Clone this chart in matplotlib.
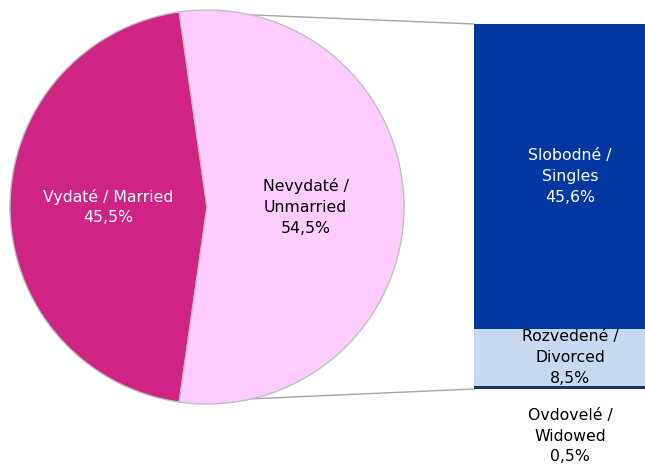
import matplotlib
matplotlib.use("Agg")
import matplotlib.pyplot as plt
from matplotlib.patches import ConnectionPatch
import numpy as np

plt.rcParams['font.family'] = ['DejaVu Sans']

pie_labels = ["Vydaté / Married", "Nevydaté / Unmarried"]
pie_values = [45.5, 54.5]
pie_colors = ["#CF2484", "#FFCCFF"]
pie_text_colors = ["white", "black"]

bar_labels = ["Ovdovelé /\nWidowed", "Rozvedené /\nDivorced", "Slobodné /\nSingles"]
bar_values = [0.5, 8.5, 45.6]
bar_colors = ["#17375E", "#C6D9F1", "#0337A2"]
bar_text_colors = ["black", "black", "white"]

FS = 11.3
LS = 1.48

W, H = 645, 465
fig = plt.figure(figsize=(W / 100, H / 100), dpi=100)
ax = fig.add_axes([0, 0, 1, 1])

cx, cy, R = 207, 258, 197
start = 180 - pie_values[0] / 100 * 180

def fmt(v):
    return f"{v:.1f}".replace(".", ",") + "%"

wedges, _ = ax.pie(pie_values, colors=pie_colors, startangle=start, counterclock=True,
                   center=(cx, cy), radius=R,
                   wedgeprops=dict(edgecolor="#BFBFBF", linewidth=1.0))
for w, lab, val, tc in zip(wedges, pie_labels, pie_values, pie_text_colors):
    ang = np.deg2rad((w.theta1 + w.theta2) / 2)
    x = cx + 0.5 * R * np.cos(ang)
    y = cy + 0.5 * R * np.sin(ang)
    if val < 50:
        txt = lab + "\n" + fmt(val)
    else:
        txt = lab.replace(" / ", " /\n") + "\n" + fmt(val)
    ax.text(x, y, txt, ha="center", va="center", color=tc, fontsize=FS,
            linespacing=LS)
ax.set_xlim(0, W)
ax.set_ylim(0, H)
ax.set_aspect("equal")
ax.axis("off")

# bar of pie
total = sum(bar_values)
bx = fig.add_axes([474 / W, (H - 389) / H, (666 - 474) / W, (389 - 24) / H])
bottoms = np.concatenate([[0], np.cumsum(bar_values)[:-1]])
bx.bar([0] * len(bar_values), bar_values, bottom=bottoms, width=1.0,
       color=bar_colors, edgecolor="none")
bx.set_xlim(-0.5, 0.5)
bx.set_ylim(0, total)
bx.axis("off")
for lab, val, b, tc in zip(bar_labels, bar_values, bottoms, bar_text_colors):
    txt = lab + "\n" + fmt(val)
    if val < 2:
        bx.annotate(txt, xy=(0, b), xytext=(0, -47), textcoords="offset pixels",
                    ha="center", va="center", color=tc, fontsize=FS, linespacing=LS,
                    annotation_clip=False)
    else:
        bx.text(0, b + val / 2, txt, ha="center", va="center", color=tc,
                fontsize=FS, linespacing=LS)

# connector lines from split wedge edges to bar corners
w = wedges[1]
for th, ybar in [(w.theta2, total), (w.theta1, 0)]:
    a = np.deg2rad(th)
    p = (cx + R * np.cos(a), cy + R * np.sin(a))
    con = ConnectionPatch(xyA=p, coordsA=ax.transData, xyB=(-0.5, ybar),
                          coordsB=bx.transData, color="#A6A6A6", linewidth=1.0,
                          zorder=0)
    fig.add_artist(con)
    con.set_zorder(0)

fig.savefig("out.png", dpi=100)
